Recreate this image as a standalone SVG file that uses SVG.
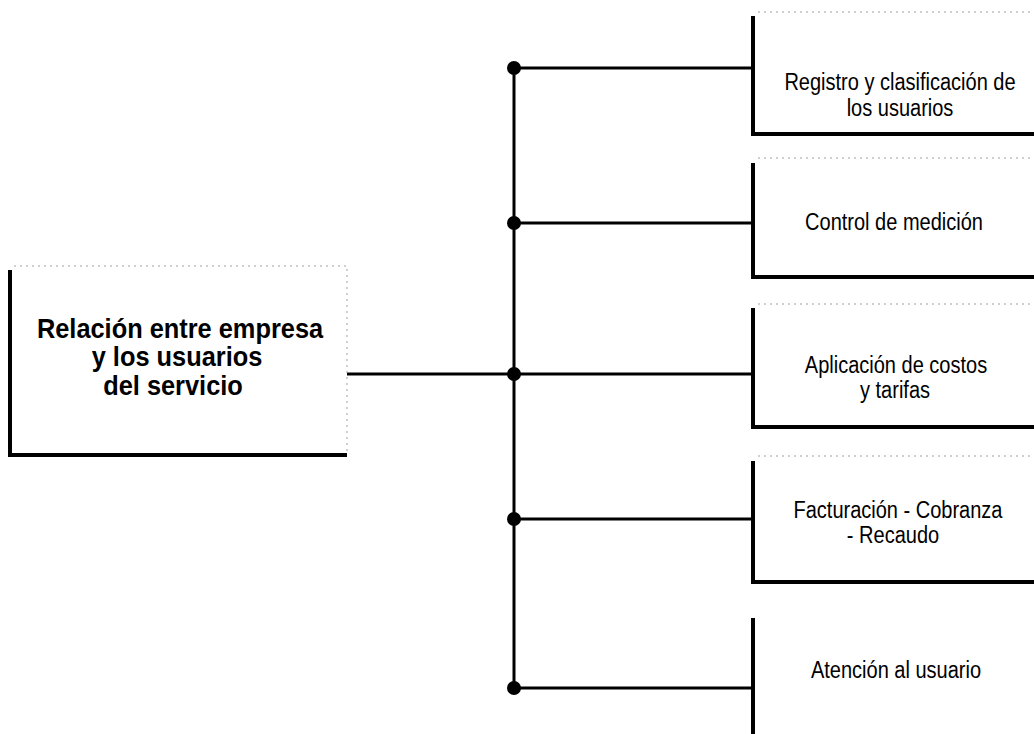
<svg xmlns="http://www.w3.org/2000/svg" width="1034" height="734" viewBox="0 0 1034 734">
<style>
.bg{fill:#fff}
.faint{stroke:#a0a0a0;stroke-width:1;stroke-dasharray:2 4;fill:none}
.edge{stroke:#000;stroke-width:4;fill:none}
.conn{stroke:#000;stroke-width:3;fill:none}
.dot{fill:#000}
.main{font-family:"Liberation Sans",Arial,sans-serif;font-weight:bold;font-size:27px;fill:#000;text-anchor:middle}
.lbl{font-family:"Liberation Sans",Arial,sans-serif;font-size:23px;fill:#000;text-anchor:middle}
</style>
<rect class="bg" x="0" y="0" width="1034" height="734"/>
<g id="connectors">
<line class="conn" x1="347" y1="374" x2="514" y2="374"/>
<line class="conn" x1="514" y1="68" x2="514" y2="688"/>
<line class="conn" x1="514" y1="68" x2="753" y2="68"/>
<line class="conn" x1="514" y1="223" x2="753" y2="223"/>
<line class="conn" x1="514" y1="374" x2="753" y2="374"/>
<line class="conn" x1="514" y1="519" x2="753" y2="519"/>
<line class="conn" x1="514" y1="688" x2="753" y2="688"/>
<circle class="dot" cx="514" cy="68" r="7"/>
<circle class="dot" cx="514" cy="223" r="7"/>
<circle class="dot" cx="514" cy="374" r="7"/>
<circle class="dot" cx="514" cy="519" r="7"/>
<circle class="dot" cx="514" cy="688" r="7"/>
</g>
<g id="node-main">
<path class="faint" d="M14 266 H347 V455"/>
<path class="edge" d="M10 270 V455 H347"/>
<g transform="translate(180,0) scale(0.94,1)"><text class="main" x="0" y="338">Relación entre empresa</text></g>
<g transform="translate(177,0) scale(0.94,1)"><text class="main" x="0" y="366">y los usuarios</text></g>
<g transform="translate(173,0) scale(0.94,1)"><text class="main" x="0" y="395">del servicio</text></g>
</g>
<g id="node-registro">
<line class="faint" x1="758" y1="12" x2="1034" y2="12"/>
<path class="edge" d="M753 16 V134 H1034"/>
<g transform="translate(900,0) scale(0.87,1)"><text class="lbl" x="0" y="90">Registro y clasificación de</text></g>
<g transform="translate(900,0) scale(0.87,1)"><text class="lbl" x="0" y="116">los usuarios</text></g>
</g>
<g id="node-control">
<line class="faint" x1="758" y1="158" x2="1034" y2="158"/>
<path class="edge" d="M753 163 V277 H1034"/>
<g transform="translate(894,0) scale(0.87,1)"><text class="lbl" x="0" y="230">Control de medición</text></g>
</g>
<g id="node-aplicacion">
<line class="faint" x1="758" y1="304" x2="1034" y2="304"/>
<path class="edge" d="M753 308 V427 H1034"/>
<g transform="translate(896,0) scale(0.87,1)"><text class="lbl" x="0" y="373">Aplicación de costos</text></g>
<g transform="translate(895,0) scale(0.87,1)"><text class="lbl" x="0" y="398">y tarifas</text></g>
</g>
<g id="node-facturacion">
<line class="faint" x1="758" y1="456" x2="1034" y2="456"/>
<path class="edge" d="M753 461 V582 H1034"/>
<g transform="translate(898,0) scale(0.87,1)"><text class="lbl" x="0" y="518">Facturación - Cobranza</text></g>
<g transform="translate(893,0) scale(0.87,1)"><text class="lbl" x="0" y="543">- Recaudo</text></g>
</g>
<g id="node-atencion">
<path class="edge" d="M753 618 V734"/>
<g transform="translate(896,0) scale(0.87,1)"><text class="lbl" x="0" y="678">Atención al usuario</text></g>
</g>
</svg>
